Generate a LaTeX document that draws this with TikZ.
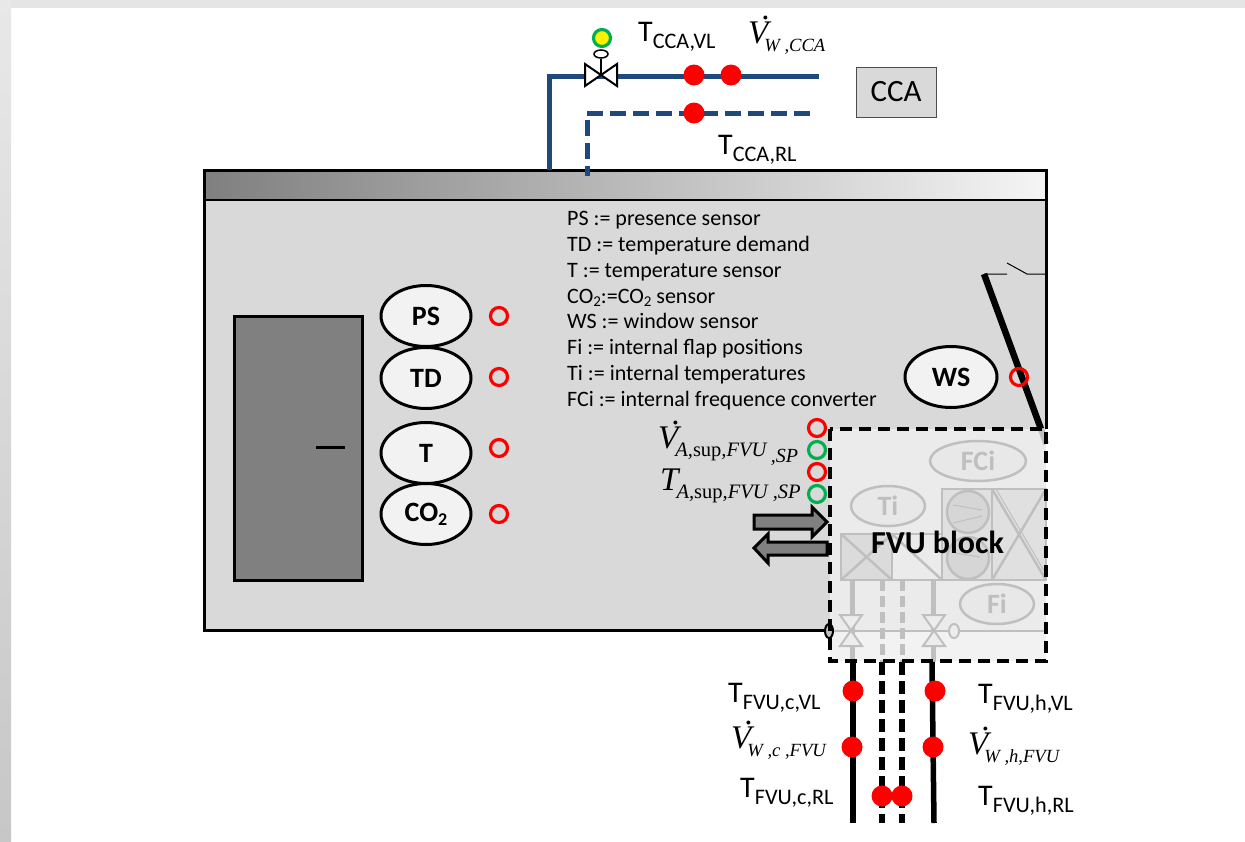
\documentclass[tikz,border=0pt]{standalone}
\usepackage{fontspec}
\setmainfont{Carlito}
\newfontfamily\serf{Liberation Serif}
\newcommand{\fsz}[1]{\fontsize{#1}{#1}\selectfont}
% T with subscript
\newcommand{\TLab}[1]{{\fsz{30}T}\raisebox{-7pt}{\fsz{22.2}#1}}
% dotted V
\newcommand{\DotV}{\serf\itshape\fsz{33}\rlap{\kern.40em\raisebox{.70em}{\upshape.}}V}
\newcommand{\VLab}[1]{{\DotV}\kern-4pt\raisebox{-8pt}{\serf\itshape\fsz{18.6}#1}}
\definecolor{pipeblue}{HTML}{1F497D}
\definecolor{ghost}{HTML}{BFBFBF}
\definecolor{sensred}{HTML}{FF0000}
\definecolor{sensgreen}{HTML}{00B050}
\tikzset{
  lab/.style={inner sep=0pt,anchor=base west},
  listtxt/.style={lab,font=\fsz{22}},
  sensorell/.style={draw=black,line width=3pt,fill=white!95!black,ellipse,minimum width=90pt,minimum height=61pt,inner sep=0pt,font=\bfseries\fsz{28}},
  ghostell/.style={draw=ghost,line width=2.5pt,fill=white!91!black,ellipse,minimum width=#1,minimum height=40pt,inner sep=0pt,text=ghost,font=\bfseries\fsz{28}},
  redring/.style={circle,draw=sensred,line width=3.2pt,minimum size=17pt,inner sep=0pt},
  greenring/.style={circle,draw=sensgreen,line width=3.2pt,minimum size=17pt,inner sep=0pt},
  reddot/.style={circle,fill=sensred,minimum size=21pt,inner sep=0pt},
  ccapipe/.style={draw=pipeblue,line width=5pt},
  blockarrow/.style={draw=black,line width=3pt,fill=black!50,line join=miter},
  ghostline/.style={draw=ghost,line width=2.5pt},
  ghostpipe/.style={draw=ghost,line width=5pt},
  ghostdash/.style={draw=ghost,line width=5pt,dash pattern=on 11pt off 5pt},
  blackpipe/.style={draw=black,line width=5.5pt},
  blackdash/.style={draw=black,line width=5.5pt,dash pattern=on 13pt off 6pt},
  valveghost/.style={draw=ghost,line width=2pt,fill=white!93!black,line join=miter},
}
\usetikzlibrary{shapes.geometric}
\begin{document}
\begin{tikzpicture}[x=1pt,y=-1pt]
\useasboundingbox (0,0) rectangle (1245,841);
% slide background
\fill[white] (0,0) rectangle (1245,841);
\fill[black!10] (0,0) rectangle (1245,8);
\shade[top color=black!9,bottom color=black!22] (0,0) rectangle (11,841);
% room
\fill[black!15] (204,170) rectangle (1046,630);
\shade[left color=black!50,right color=black!4] (204,170) rectangle (1046,200);
\draw[line width=3pt,line join=miter] (1046,429) -- (1046,170) -- (204,170) -- (204,630) -- (829,630);
\draw[line width=2.5pt] (204,200) -- (1046,200);
% dark cabinet
\draw[fill=black!50,line width=3pt] (234,316) rectangle (362,580);
\coordinate (dashA) at (316,447);
\coordinate (dashB) at (345,447);
\draw[line width=3pt] (dashA) -- (dashB);
% CCA piping
\coordinate (sRoom) at (549,170);
\coordinate (sCorner) at (549,76);
\coordinate (sEnd) at (819,76);
\coordinate (rRoom) at (587,176);
\coordinate (rCorner) at (587,113);
\coordinate (rEnd) at (813,113);
\draw[ccapipe,line join=miter] (sRoom) -- (sCorner) -- (sEnd);
\draw[ccapipe,line join=miter,dash pattern=on 16pt off 7pt,dash phase=6pt] (rRoom) -- (rCorner) -- (rEnd);
% CCA valve
\coordinate (ccaValve) at (601,75);
\node[draw=black,line width=1.5pt,ellipse,minimum width=14pt,minimum height=8pt,inner sep=0pt] (ccaKnob) at (601,54) {};
\draw[line width=1.5pt] (ccaKnob) -- (ccaValve);
\draw[line width=2pt,fill=white,line join=miter] (585,64) -- (617,86) -- (617,64) -- (585,86) -- cycle;
\node[circle,draw=sensgreen,line width=3.2pt,fill=yellow,minimum size=17pt,inner sep=0pt] (ccaLamp) at (602,38) {};
\node[reddot] (d1) at (694,75) {};
\node[reddot] (d2) at (731,75) {};
\node[reddot] (d3) at (694,113) {};
\node[draw=black!70,line width=1pt,fill=black!15,minimum width=80pt,minimum height=50pt,inner sep=0pt,font=\fsz{31}] (cca) at (896,92) {CCA};
\node[lab] (tccavl) at (638,41) {\TLab{CCA,VL}};
\node[lab] (vcca) at (748,43) {\VLab{W ,CCA}};
\node[lab] (tccarl) at (718,154) {\TLab{CCA,RL}};
% legend
\node[listtxt] (l1) at (567,225) {PS := presence sensor};
\node[listtxt] (l2) at (567,251) {TD := temperature demand};
\node[listtxt] (l3) at (567,277) {T := temperature sensor};
\node[listtxt] (l4) at (567,303) {CO\raisebox{-3pt}{\fsz{15}2}:=CO\raisebox{-3pt}{\fsz{15}2} sensor};
\node[listtxt] (l5) at (567,328) {WS := window sensor};
\node[listtxt] (l6) at (567,354) {Fi := internal flap positions};
\node[listtxt] (l7) at (567,380) {Ti := internal temperatures};
\node[listtxt] (l8) at (567,406) {FCi := internal frequence converter};
% sensors
\node[sensorell] (ps) at (426,316) {PS};
\node[sensorell] (td) at (426,378) {TD};
\node[sensorell] (t) at (426,453) {T};
\node[sensorell] (co) at (426,514) {CO\raisebox{-4pt}{\fsz{18}2}};
\node[redring] (rps) at (499,316) {};
\node[redring] (rtd) at (499,377) {};
\node[redring] (rt) at (499,448) {};
\node[redring] (rco) at (499,514) {};
% window
\coordinate (winTop) at (984,274);
\coordinate (winMid) at (1041,429);
\coordinate (winEnd) at (1046,444);
\coordinate (flapA) at (1007,274);
\coordinate (flapB) at (1007,263);
\coordinate (flapC) at (1027,274);
\coordinate (flapD) at (1046,274);
\draw[line width=1pt] (winTop) -- (flapA) (flapB) -- (flapC) -- (flapD);
\draw[line width=6.5pt] (winTop) -- (winMid);
\node[sensorell,minimum width=92pt] (ws) at (951,377) {WS};
\node[redring] (rws) at (1019,377) {};
% FVU block background
\fill[white!92!black] (830,429) rectangle (1046,630);
\fill[white!95!black] (830,630) rectangle (1046,661);
\draw[ghost,line width=6pt] (winMid) -- (winEnd);
% FVU ghost contents
\coordinate (h1) at (830,631);
\coordinate (h2) at (1046,631);
\draw[ghostline] (h1) -- (h2);
\coordinate (p1a) at (852,580);
\coordinate (p1b) at (852,662);
\coordinate (p2a) at (882,580);
\coordinate (p2b) at (882,662);
\coordinate (p3a) at (902,580);
\coordinate (p3b) at (902,662);
\coordinate (p4a) at (933,580);
\coordinate (p4b) at (933,662);
\draw[ghostpipe] (p1a) -- (p1b);
\draw[ghostpipe] (p4a) -- (p4b);
\draw[ghostdash] (p2a) -- (p2b);
\draw[ghostdash] (p3a) -- (p3b);
\draw[valveghost] (840,615) -- (862,615) -- (840,646) -- (862,646) -- cycle;
\draw[valveghost] (923,615) -- (945,615) -- (923,646) -- (945,646) -- cycle;
\node[draw=ghost,line width=2pt,fill=white!93!black,ellipse,minimum width=10pt,minimum height=14pt,inner sep=0pt] (hv) at (954,631) {};
\node[draw=black,line width=2pt,fill=black!25,ellipse,minimum width=8pt,minimum height=14pt,inner sep=0pt] (cv) at (829,631) {};
% coils, fans, filter
\draw[ghostline,fill=black!14] (841,534) rectangle (892,580);
\draw[ghostline] (841,534) -- (892,580) (841,580) -- (892,534);
\draw[ghostline] (892,534) rectangle (942,580);
\draw[ghostline] (892,534) -- (942,580);
\draw[ghostline,fill=black!12] (942,489) rectangle (992,580);
\draw[ghostline,fill=black!12] (992,489) rectangle (1046,580);
\draw[ghostline] (992,489) -- (1046,580) (992,580) -- (1046,489);
\draw[draw=ghost,line width=1pt] (996,489) -- (1046,574);
\draw[ghostline,fill=black!16] (968,558) circle (21pt);
\draw[ghostline,fill=black!16] (968,512) circle (21pt);
\draw[draw=ghost,line width=1pt] (953,505) -- (982,510) (953,523) -- (982,516) (955,553) -- (980,557);
\node[ghostell=96pt] (fci) at (978,461) {FCi};
\node[ghostell=74pt] (ti) at (888,506) {Ti};
\node[ghostell=74pt] (fi) at (997,604) {Fi};
\node[lab,font=\bfseries\fsz{32}] (fvu) at (871,553) {FVU block};
% FVU frame
\draw[line width=3.5pt,dash pattern=on 12pt off 7pt] (830,429) rectangle (1046,661);
% FVU signals
\node[redring] (s1) at (817,428) {};
\node[greenring] (s2) at (817,450) {};
\node[redring] (s3) at (817,472) {};
\node[greenring] (s4) at (817,494) {};
\draw[blockarrow] (754,515) -- (812,515) -- (812,507) -- (827,522) -- (812,537) -- (812,529) -- (754,529) -- cycle;
\draw[blockarrow] (827,542) -- (768,542) -- (768,534) -- (754,548) -- (768,563) -- (768,555) -- (827,555) -- cycle;
\node[lab] (vsup) at (658,448) {{\DotV}\kern-3pt\raisebox{-8pt}{\serf\fsz{20.5}\textit{A,}sup\textit{,FVU}}\raisebox{-14pt}{\serf\itshape\fsz{20}\,,SP}};
\node[lab] (tsup) at (660,490) {{\serf\itshape\fsz{33}T}\kern-2pt\raisebox{-8pt}{\serf\fsz{20.5}\textit{A,}sup\textit{,FVU ,SP}}};
% FVU water piping
\coordinate (c1a) at (853,662);
\coordinate (c1b) at (853,823);
\coordinate (c2a) at (882,662);
\coordinate (c2b) at (882,823);
\coordinate (c3a) at (902,662);
\coordinate (c3b) at (902,823);
\coordinate (c4a) at (932,662);
\coordinate (c4b) at (934,823);
\draw[blackpipe] (c1a) -- (c1b);
\draw[blackpipe] (c4a) -- (c4b);
\draw[blackdash] (c2a) -- (c2b);
\draw[blackdash] (c3a) -- (c3b);
\node[reddot] (w1) at (853,691) {};
\node[reddot] (w2) at (935,691) {};
\node[reddot] (w3) at (852,747) {};
\node[reddot] (w4) at (933,747) {};
\node[reddot] (w5) at (882,796) {};
\node[reddot] (w6) at (902,796) {};
\node[lab] (tcvl) at (728,702) {\TLab{FVU,c,VL}};
\node[lab] (vc) at (731,748) {\VLab{W ,c ,FVU}};
\node[lab] (tcrl) at (740,797) {\TLab{FVU,c,RL}};
\node[lab] (thvl) at (978,703) {\TLab{FVU,h,VL}};
\node[lab] (vh) at (968,754) {\VLab{W ,h,FVU}};
\node[lab] (thrl) at (978,805) {\TLab{FVU,h,RL}};
\end{tikzpicture}
\end{document}
